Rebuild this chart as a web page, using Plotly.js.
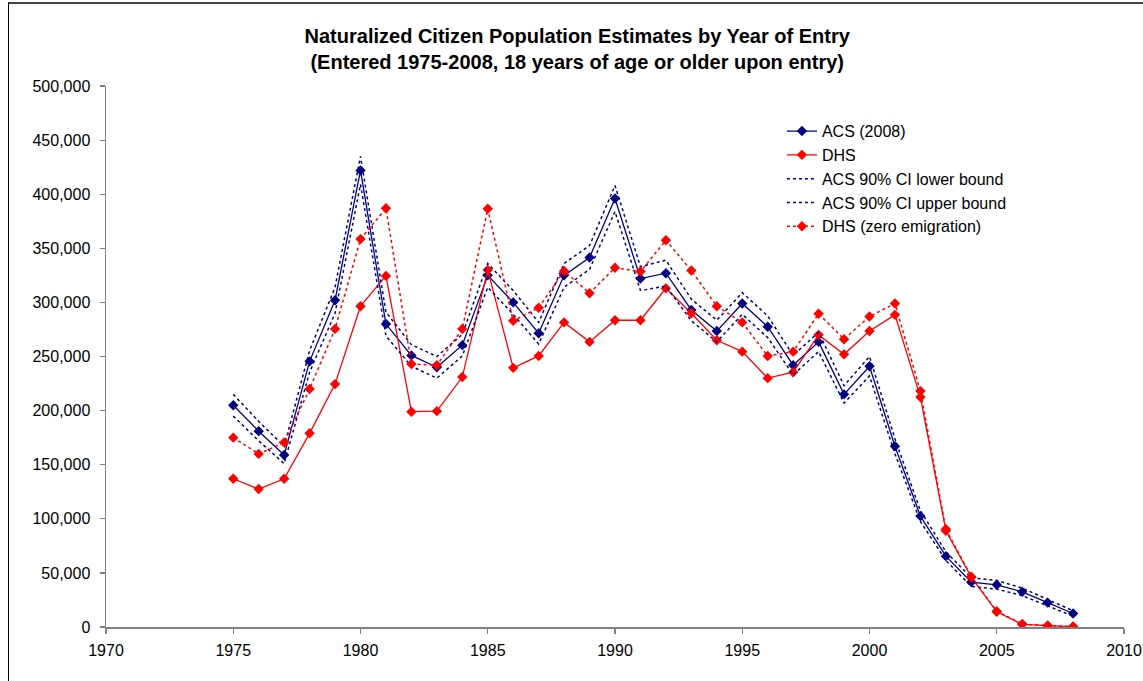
<!DOCTYPE html>
<html>
<head>
<meta charset="utf-8">
<script src="https://cdn.plot.ly/plotly-3.0.1.min.js"></script>
<style>
  html, body { margin: 0; padding: 0; background: #fff; }
  #wrap { position: relative; width: 1143px; height: 681px; overflow: hidden; }
  #frame { position: absolute; left: 8px; top: 2px; width: 1200px; height: 720px;
           border-left: 1px solid #000; border-top: 2px solid #444; box-sizing: border-box; }
  #chart { position: absolute; left: 0; top: 0; width: 1143px; height: 681px; }
</style>
</head>
<body>
<div id="wrap">
  <div id="frame"></div>
  <div id="chart"></div>
</div>
<script>
const years = [1975,1976,1977,1978,1979,1980,1981,1982,1983,1984,1985,1986,1987,1988,1989,1990,1991,1992,1993,1994,1995,1996,1997,1998,1999,2000,2001,2002,2003,2004,2005,2006,2007,2008];

const acs2008 = [205000,181000,159000,245500,302000,422000,280000,251000,240000,260500,325000,300000,271500,325000,341500,396000,322000,327000,293000,273500,299000,277500,242000,263500,215000,241000,167000,102500,65500,41500,39000,32500,22500,12500];

const dhs = [137000,127500,137000,179000,224500,296500,324500,199000,199500,231000,330000,239500,250500,281500,263500,283500,283500,313000,290000,265000,254500,230000,235500,270000,252000,273500,288500,212500,89000,46000,14000,2500,1200,300];

const acsLower = [195000,172000,151000,235500,290000,409000,269000,241000,230000,250500,314000,289000,261500,314000,330500,384000,311000,315000,283000,263500,289000,267500,233000,254500,207000,232000,160000,97500,61500,37500,35000,29000,19500,10000];

const acsUpper = [215000,190000,167000,255500,314000,435000,291000,261000,250000,270500,336000,311000,281500,336000,352500,408000,333000,339000,303000,283500,309000,287500,251000,272500,223000,250000,174000,107500,69500,45500,43000,36000,25500,15000];

const dhsZeroEmig = [175000,160000,170500,220000,275500,358500,387000,243000,242000,275500,386500,283000,295000,329000,308500,332000,328500,357500,329500,296500,281500,250500,254500,289500,266000,287000,299000,218000,90500,46500,14500,2700,1300,400];

const seriesNames = ["ACS (2008)", "DHS", "ACS 90% CI lower bound", "ACS 90% CI upper bound", "DHS (zero emigration)"];

const navy = "#000080";
const red = "#FF0000";

const traces = [
  { x: years, y: acs2008, name: seriesNames[0], type: "scatter", mode: "lines+markers",
    line: { color: navy, width: 1.3 }, marker: { symbol: "diamond", size: 8, color: navy } },
  { x: years, y: dhs, name: seriesNames[1], type: "scatter", mode: "lines+markers",
    line: { color: red, width: 1.3 }, marker: { symbol: "diamond", size: 8, color: red } },
  { x: years, y: acsLower, name: seriesNames[2], type: "scatter", mode: "lines",
    line: { color: navy, width: 1.5, dash: "dot" } },
  { x: years, y: acsUpper, name: seriesNames[3], type: "scatter", mode: "lines",
    line: { color: navy, width: 1.5, dash: "dot" } },
  { x: years, y: dhsZeroEmig, name: seriesNames[4], type: "scatter", mode: "lines+markers",
    line: { color: red, width: 1.5, dash: "dot" }, marker: { symbol: "diamond", size: 8, color: red } }
];

const layout = {
  width: 1143, height: 681,
  paper_bgcolor: "rgba(0,0,0,0)",
  plot_bgcolor: "rgba(0,0,0,0)",
  margin: { l: 106, r: 19, t: 86, b: 54, pad: 0 },
  font: { family: "Liberation Sans, Arial, sans-serif", size: 16, color: "#000" },
  title: {
    text: "<b>Naturalized Citizen Population Estimates by Year of Entry</b><br><b>(Entered 1975-2008, 18 years of age or older upon entry)</b>",
    font: { family: "Liberation Sans, Arial, sans-serif", size: 20, color: "#000" },
    xref: "container", x: 0.505, xanchor: "center",
    yref: "container", y: 0.937, yanchor: "top"
  },
  xaxis: {
    range: [1970, 2010], tickmode: "linear", tick0: 1970, dtick: 5,
    showgrid: false, zeroline: false, showline: true, linecolor: "#808080", linewidth: 1.5,
    ticks: "outside", ticklen: 5, tickcolor: "#808080", tickwidth: 1.2,
    ticklabelstandoff: 3,
    tickfont: { size: 16, color: "#000" }
  },
  yaxis: {
    range: [0, 500000], tickmode: "linear", tick0: 0, dtick: 50000, tickformat: ",d",
    showgrid: false, zeroline: false, showline: true, linecolor: "#808080", linewidth: 1.5,
    ticks: "outside", ticklen: 5, tickcolor: "#808080", tickwidth: 1.2,
    ticklabelstandoff: 6,
    tickfont: { size: 16, color: "#000" }
  },
  legend: {
    x: 0.664, xanchor: "left", y: 0.948, yanchor: "top",
    bgcolor: "rgba(0,0,0,0)", borderwidth: 0,
    font: { size: 16, color: "#000" },
    tracegroupgap: 0
  },
  showlegend: true
};

Plotly.newPlot("chart", traces, layout, { displayModeBar: false, staticPlot: true });
</script>
</body>
</html>
